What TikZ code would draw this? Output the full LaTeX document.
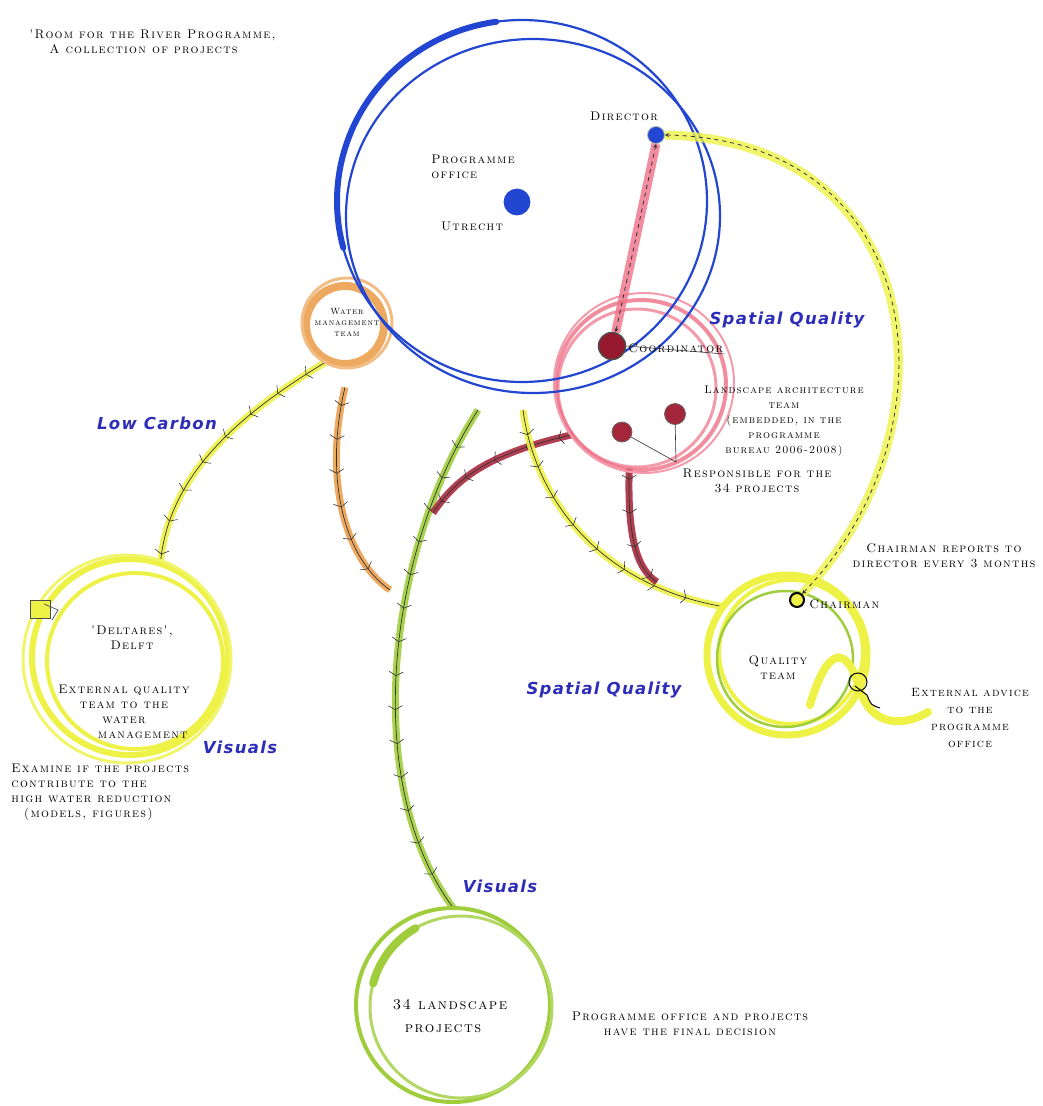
\documentclass[tikz,border=0pt]{standalone}
\usepackage{fontspec}
\newfontfamily\themefont{DejaVu Sans}[LetterSpace=8.0]
\newfontfamily\handfont{lmroman10-regular.otf}[SmallCapsFont=lmromancaps10-regular.otf, LetterSpace=10.0]
\usetikzlibrary{decorations.markings}

\definecolor{progblue}{RGB}{35,70,210}
\definecolor{labelblue}{RGB}{45,45,185}
\definecolor{waterorange}{RGB}{236,160,80}
\definecolor{landpink}{RGB}{238,112,135}
\definecolor{dotred}{RGB}{150,25,45}
\definecolor{marker}{RGB}{238,242,70}
\definecolor{leafgreen}{RGB}{160,205,60}

\begin{document}
\begin{tikzpicture}[
    x=1pt, y=-1pt,
    >=stealth, thick,
    every node/.style={font=\handfont\fontsize{12.5}{15}\selectfont\scshape, align=center, inner sep=1pt},
    theme/.style={font=\themefont\bfseries\itshape\fontsize{16.5}{18}\selectfont, text=labelblue},
    zone/.style={circle, inner sep=0pt, minimum size=#1},
    blob/.style={circle, inner sep=0pt, minimum size=#1, draw=black!60, line width=0.8pt},
    stroke/.style={line width=#1, line cap=round},
    fishbone/.style={draw=black!80, line width=0.7pt, line cap=round,
        preaction={draw=#1, line width=7pt, opacity=0.9},
        postaction={decorate, decoration={markings,
            mark=between positions 0.08 and 0.97 step 34pt with
            {\draw[black!80, line width=0.6pt] (-3,-7) -- (1,0) -- (-3,7);}}}},
    linkband/.style={draw=black!80, line width=0.8pt, dash pattern=on 4pt off 4pt, <->,
        preaction={draw=#1, line width=9pt, opacity=0.8, solid, -}}
]
\useasboundingbox (0,0) rectangle (1043,1106);

% zones
\node[zone=376pt] (po) at (527,208) {};
\node[zone=84pt] (wmt) at (345,325) {};
\node[zone=168pt] (lat) at (641,385) {};
\node[zone=196pt] (del) at (130,657) {};
\node[zone=160pt] (qt) at (787,655) {};
\node[zone=194pt] (proj) at (453,1005) {};

% free ends of the connectors
\coordinate (orangeend) at (390,590);
\coordinate (stemtop) at (478,410);
\coordinate (redend) at (433,513);
\coordinate (yellowtop) at (523,410);
\coordinate (redfoot) at (657,582);

\draw[fishbone=marker] (wmt.-118) .. controls (230,420) and (168,480) .. (del.72);
\draw[fishbone=waterorange] ([yshift=-20pt]wmt.south) .. controls (325,470) and (340,555) .. (orangeend);
\draw[fishbone=leafgreen] (stemtop) .. controls (385,555) and (362,785) .. (proj.north);
\draw[fishbone=dotred!80!landpink] (lat.-144) .. controls (495,452) and (458,475) .. (redend);
\draw[fishbone=marker] (yellowtop) .. controls (535,500) and (600,585) .. (qt.143);
\draw[fishbone=dotred!80!landpink] (lat.-98) .. controls (627,540) and (638,570) .. (redfoot);

% rings
\draw[marker, stroke=6pt] (del) circle[radius=98];
\draw[marker, stroke=4pt] ([shift={(5,4)}]del.center) circle[radius=88];
\draw[marker!80!white, stroke=3pt] ([shift={(-3,2)}]del.center) circle[radius=104];
\draw[marker, stroke=7pt] (qt) circle[radius=80];
\draw[marker, stroke=4pt] ([shift={(4,-3)}]qt.center) circle[radius=72];
\draw[leafgreen, stroke=2.5pt] ([shift={(-2,4)}]qt.center) circle[radius=68];
\draw[marker, stroke=8pt] (810,705) .. controls (826,650) and (846,640) .. (860,690)
    .. controls (872,728) and (905,726) .. (928,712);
\draw[leafgreen, stroke=4pt] (proj) circle[radius=97];
\draw[leafgreen!80, stroke=3pt] ([shift={(8,2)}]proj.center) circle[radius=91];
\draw[leafgreen, stroke=8pt] ([shift={(8,2)}]proj.center) ++(195:91) arc[start angle=195, end angle=240, radius=91];
\draw[landpink, stroke=4pt, opacity=0.8] (lat) circle[radius=85];
\draw[landpink, stroke=3pt, opacity=0.7] ([shift={(-4,3)}]lat.center) circle[radius=79];
\draw[landpink!70, stroke=2pt] ([shift={(3,-2)}]lat.center) circle[radius=90];
\draw[waterorange, stroke=8pt, opacity=0.9] (wmt) circle[radius=39];
\draw[waterorange!70, stroke=3pt] ([shift={(2,-2)}]wmt.center) circle[radius=45];
\draw[progblue, stroke=2.2pt] ([shift={(-5,-7)}]po.center) ellipse[x radius=185, y radius=181];
\draw[progblue, stroke=2.2pt] ([shift={(6,8)}]po.center) ellipse[x radius=187, y radius=177];
\draw[progblue, stroke=6pt] ([shift={(-5,-7)}]po.center) ++(165:185 and 181)
    arc[start angle=165, end angle=262, x radius=185, y radius=181];

% dots
\node[blob=26pt, fill=progblue, draw=progblue] (podot) at (517,202) {};
\node[blob=17pt, fill=progblue, draw=black!30] (dir) at (656,135) {};
\node[blob=27pt, fill=dotred, draw=black!70, line width=1.5pt] (coord) at (612,346) {};
\node[blob=20pt, fill=dotred!85!landpink] (ldot1) at (622,432) {};
\node[blob=21pt, fill=dotred!85!landpink] (ldot2) at (675,414) {};
\node[blob=14pt, fill=marker, draw=black, line width=2pt] (chair) at (797,600) {};

\draw[linkband=landpink] (coord.75) -- (dir.south);
\draw[linkband=marker] (chair.50) .. controls (960,430) and (930,140) .. (dir.east);

\coordinate (resp) at (676,462);
\draw[black!80, line width=0.6pt] (ldot1) -- (resp);
\draw[black!80, line width=0.6pt] (ldot2) -- (resp);

\node[anchor=south west] (coordlbl) at (627,354) {Coordinator};
\draw[black!80, line width=0.6pt] (coord.east) -- (coordlbl.south east);

\draw[black, line width=1pt] (858,682) circle[radius=9];
\draw[black, line width=1pt] (855,686) -- (867,695) .. controls (871,705) .. (880,708);
\draw[black!70, fill=marker, line width=0.7pt] (30,600) rectangle (50,618);
\draw[black!70, line width=0.7pt] (44,604) -- (58,610) -- (52,620);

% texts
\node[anchor=north west, align=left] (title) at (28,28) {'Room for the River Programme,\\\hspace*{1.6em}A collection of projects};
\node[anchor=north west, align=left] (polbl) at (430,154) {Programme\\office};
\node (utrecht) at (472,226) {Utrecht};
\node (dirlbl) at (624,116) {Director};
\node[font=\handfont\fontsize{9}{11}\selectfont\scshape] (wmtlbl) at (347,322) {Water\\management\\team};
\node[font=\handfont\fontsize{11}{15}\selectfont\scshape] (latlbl) at (784,421) {Landscape architecture\\team\\(embedded, in the\\programme\\bureau 2006-2008)};
\node (resplbl) at (757,481) {Responsible for the\\34 projects};
\node (chairrep) at (944,556) {Chairman reports to\\director every 3 months};
\node[anchor=west] (chairlbl) at (808,604) {Chairman};
\node (qtlbl) at (778,668) {Quality\\team};
\node[font=\handfont\fontsize{12}{17}\selectfont\scshape] (advice) at (970,718) {External advice\\to the\\programme\\office};
\node (dellbl) at (132,638) {'Deltares',\\Delft};
\node (extlbl) at (124,712) {External quality\\team to the\\water\\\hspace*{3em}management};
\node[anchor=north west, align=left] (examine) at (10,763) {Examine if the projects\\contribute to the\\high water reduction\\\hspace*{1em}(models, figures)};
\node[align=left, font=\handfont\fontsize{15}{23}\selectfont\scshape] (projlbl) at (450,1016) {34 landscape\\\hspace*{0.8em}projects};
\node (decision) at (690,1024) {Programme office and projects\\have the final decision};

\node[theme] (sq1) at (787,320) {Spatial Quality};
\node[theme] (lc) at (157,423) {Low Carbon};
\node[theme] (vis1) at (240,747) {Visuals};
\node[theme] (sq2) at (604,690) {Spatial Quality};
\node[theme] (vis2) at (500,886) {Visuals};
\end{tikzpicture}
\end{document}
